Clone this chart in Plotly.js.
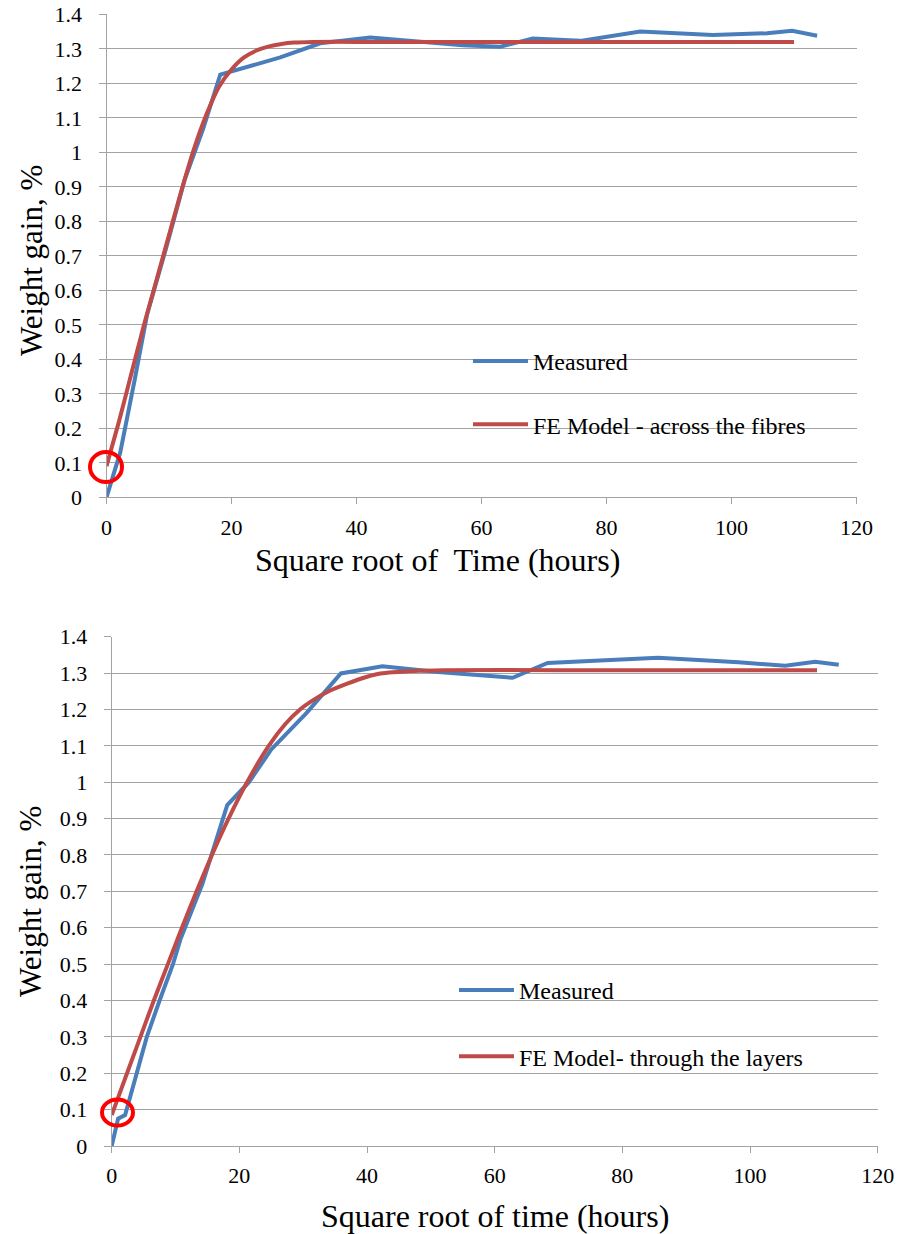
<!DOCTYPE html>
<html>
<head>
<meta charset="utf-8">
<script src="https://cdn.plot.ly/plotly-3.0.1.min.js"></script>
<style>html,body{margin:0;padding:0;background:#fff;}#chart{width:901px;height:1234px;}</style>
</head>
<body>
<div id="chart"></div>
<script>
// ---- Top chart: across the fibres ----
const topMeasuredX = [0, 2.2, 4.5, 6.5, 9.5, 12.5, 15.5, 18.2, 27.8, 34.2, 42.2, 50, 57, 63, 68.2, 75.8, 85.4, 97, 102, 105.7, 109.7, 113.7];
const topMeasuredY = [0, 0.13, 0.34, 0.53, 0.72, 0.92, 1.07, 1.225, 1.275, 1.316, 1.333, 1.322, 1.31, 1.306, 1.33, 1.323, 1.35, 1.34, 1.343, 1.345, 1.352, 1.338];
const topModelX = [0, 2, 4, 6, 8, 10, 12, 14, 16, 18, 20, 22, 24, 26, 28, 30, 33, 40, 60, 80, 100, 110];
const topModelY = [0.09, 0.22, 0.36, 0.5, 0.63, 0.76, 0.89, 1.01, 1.11, 1.19, 1.24, 1.275, 1.295, 1.307, 1.314, 1.318, 1.32, 1.32, 1.32, 1.32, 1.32, 1.32];

// ---- Bottom chart: through the layers ----
const botMeasuredX = [0, 1, 2.1, 3.9, 5.5, 7.5, 9.6, 10.8, 14.2, 18.1, 21.5, 25, 30.5, 35.9, 42.4, 51.1, 62.8, 68.3, 73.6, 85.6, 98.2, 105.5, 110.2, 113.9];
const botMeasuredY = [0, 0.075, 0.085, 0.2, 0.3, 0.4, 0.5, 0.57, 0.72, 0.937, 1.0, 1.09, 1.19, 1.299, 1.319, 1.303, 1.287, 1.328, 1.333, 1.342, 1.33, 1.32, 1.331, 1.323];
const botModelX = [0, 2.4, 4.5, 6.6, 8.8, 11.0, 13.3, 15.7, 18.3, 21.2, 24.6, 27.2, 29.5, 31.5, 34, 36.9, 40, 42.1, 47.4, 52, 70, 90, 110.5];
const botModelY = [0.085, 0.2, 0.3, 0.4, 0.5, 0.6, 0.7, 0.8, 0.9, 1.0, 1.1, 1.16, 1.2, 1.225, 1.25, 1.271, 1.29, 1.299, 1.306, 1.308, 1.308, 1.308, 1.308];

// ---- Axis ticks & labels ----
const xTickVals = [0, 20, 40, 60, 80, 100, 120];
const yTickVals = [0, 0.1, 0.2, 0.3, 0.4, 0.5, 0.6, 0.7, 0.8, 0.9, 1, 1.1, 1.2, 1.3, 1.4];
const yTickText = ['0', '0.1', '0.2', '0.3', '0.4', '0.5', '0.6', '0.7', '0.8', '0.9', '1', '1.1', '1.2', '1.3', '1.4'];
const seriesNames = ['Measured', 'FE Model - across the fibres', 'Measured', 'FE Model- through the layers'];
const xTitles = ['Square root of  Time (hours)', 'Square root of time (hours)'];
const yTitle = 'Weight gain, %';

const W = 901, H = 1234;
const BLUE = '#4a7ebb', RED = '#be4b48', GRID = '#a3a3a3';
const FONT = '"Liberation Serif", serif';
const px = v => v / W;
const py = v => 1 - v / H;

const traces = [
  {x: topMeasuredX, y: topMeasuredY, name: seriesNames[0], type: 'scatter', mode: 'lines',
   line: {color: BLUE, width: 4}, xaxis: 'x', yaxis: 'y', legend: 'legend', legendgroup: 'a'},
  {x: topModelX, y: topModelY, name: seriesNames[1], type: 'scatter', mode: 'lines',
   line: {color: RED, width: 4, shape: 'spline', smoothing: 0.6}, xaxis: 'x', yaxis: 'y', legend: 'legend', legendgroup: 'b'},
  {x: botMeasuredX, y: botMeasuredY, name: seriesNames[2], type: 'scatter', mode: 'lines',
   line: {color: BLUE, width: 4}, xaxis: 'x2', yaxis: 'y2', legend: 'legend2', legendgroup: 'c'},
  {x: botModelX, y: botModelY, name: seriesNames[3], type: 'scatter', mode: 'lines',
   line: {color: RED, width: 4, shape: 'spline', smoothing: 0.5}, xaxis: 'x2', yaxis: 'y2', legend: 'legend2', legendgroup: 'd'}
];

function xAxis(domain, anchor) {
  return {domain: domain, anchor: anchor, range: [0, 120], tickvals: xTickVals, ticktext: xTickVals.map(String),
    showgrid: false, zeroline: false, showline: true, linecolor: GRID, linewidth: 1,
    ticks: 'outside', ticklen: 6, tickcolor: GRID, tickwidth: 1, ticklabelstandoff: 4,
    tickfont: {family: FONT, size: 22, color: '#000'}, fixedrange: true};
}
function yAxis(domain, anchor) {
  return {domain: domain, anchor: anchor, range: [0, 1.4], tickvals: yTickVals, ticktext: yTickText,
    showgrid: true, gridcolor: GRID, gridwidth: 1, zeroline: false, showline: true, linecolor: GRID, linewidth: 1,
    ticks: 'outside', ticklen: 7, tickcolor: GRID, tickwidth: 1, ticklabelstandoff: 12,
    tickfont: {family: FONT, size: 22, color: '#000'}, fixedrange: true};
}

const layout = {
  width: W, height: H,
  font: {family: FONT, color: '#000'},
  margin: {l: 0, r: 0, t: 0, b: 0},
  paper_bgcolor: '#fff', plot_bgcolor: '#fff',
  showlegend: true,
  xaxis: xAxis([px(106.5), px(856.5)], 'y'),
  yaxis: yAxis([py(497.3), py(14.3)], 'x'),
  xaxis2: xAxis([px(111.7), px(877.7)], 'y2'),
  yaxis2: yAxis([py(1146), py(636.7)], 'x2'),
  legend: {x: px(468), y: py(339), xanchor: 'left', yanchor: 'top', bgcolor: 'rgba(0,0,0,0)', itemwidth: 55,
    font: {family: FONT, size: 24, color: '#000'}, traceorder: 'grouped', tracegroupgap: 29, itemclick: false},
  legend2: {x: px(454), y: py(968), xanchor: 'left', yanchor: 'top', bgcolor: 'rgba(0,0,0,0)', itemwidth: 55,
    font: {family: FONT, size: 24, color: '#000'}, traceorder: 'grouped', tracegroupgap: 32, itemclick: false},
  shapes: [
    {type: 'rect', xref: 'paper', yref: 'paper', x0: px(435), x1: px(835), y0: py(448), y1: py(340),
     fillcolor: '#fff', line: {width: 0}, layer: 'between'},
    {type: 'rect', xref: 'paper', yref: 'paper', x0: px(390), x1: px(864), y0: py(1092), y1: py(948),
     fillcolor: '#fff', line: {width: 0}, layer: 'between'},
    {type: 'circle', xref: 'paper', yref: 'paper', xsizemode: 'pixel', ysizemode: 'pixel', xanchor: px(106), yanchor: py(467),
     x0: -16, x1: 16, y0: -15, y1: 15, line: {color: '#ff0000', width: 4}, layer: 'above'},
    {type: 'circle', xref: 'paper', yref: 'paper', xsizemode: 'pixel', ysizemode: 'pixel', xanchor: px(117.5), yanchor: py(1112.5),
     x0: -15.5, x1: 15.5, y0: -13, y1: 13, line: {color: '#ff0000', width: 4}, layer: 'above'}
  ],
  annotations: [
    {text: xTitles[0], xref: 'paper', yref: 'paper', x: px(437), y: py(560), xanchor: 'center', yanchor: 'middle',
     showarrow: false, font: {family: FONT, size: 32, color: '#000'}},
    {text: xTitles[1], xref: 'paper', yref: 'paper', x: px(495), y: py(1216), xanchor: 'center', yanchor: 'middle',
     showarrow: false, font: {family: FONT, size: 32, color: '#000'}},
    {text: yTitle, xref: 'paper', yref: 'paper', x: px(31), y: py(261), xanchor: 'center', yanchor: 'middle',
     textangle: -90, showarrow: false, font: {family: FONT, size: 31, color: '#000'}},
    {text: yTitle, xref: 'paper', yref: 'paper', x: px(31), y: py(902), xanchor: 'center', yanchor: 'middle',
     textangle: -90, showarrow: false, font: {family: FONT, size: 31, color: '#000'}}
  ]
};

Plotly.newPlot('chart', traces, layout, {displayModeBar: false, staticPlot: true});
</script>
</body>
</html>
